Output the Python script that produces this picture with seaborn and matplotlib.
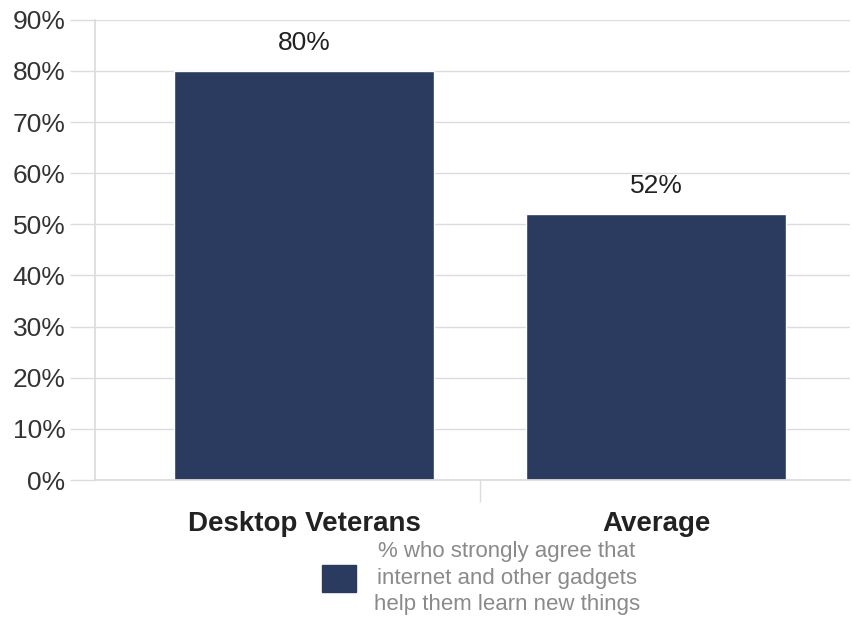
import numpy as np
import pandas as pd
import matplotlib
matplotlib.use("Agg")
import matplotlib.pyplot as plt
from matplotlib.patches import Patch
from matplotlib.ticker import MultipleLocator, FixedLocator
import seaborn as sns

categories = ["Desktop Veterans", "Average"]
values = [80, 52]
value_labels = ["80%", "52%"]
legend_label = "% who strongly agree that\ninternet and other gadgets\nhelp them learn new things"

bar_color = "#2a3b5f"
grid_color = "#dcdcdc"

sns.set_theme(style="white")
plt.rcParams["font.family"] = ["Liberation Sans", "DejaVu Sans"]

df = pd.DataFrame({"group": categories, "pct": values})

fig = plt.figure(figsize=(8.53, 6.17), dpi=100)
ax = fig.add_axes([0.111, 0.222, 0.885, 0.746])

sns.barplot(data=df, x="group", y="pct", color=bar_color, width=0.74,
            saturation=1, ax=ax)

ax.set_ylim(0, 90)
ax.set_xlim(-0.595, 1.55)
ax.yaxis.set_major_locator(MultipleLocator(10))
ax.set_yticklabels([f"{int(t)}%" for t in ax.get_yticks()])
ax.yaxis.grid(True, color=grid_color, linewidth=1)
ax.set_axisbelow(True)
# tick lengths are in points: 18pt ~ 25px
ax.tick_params(axis="y", left=True, length=18, width=1, color=grid_color,
               labelsize=19, labelcolor="#333333", pad=3)

ax.xaxis.set_minor_locator(FixedLocator([0.5]))
ax.tick_params(axis="x", which="major", bottom=False, length=0, pad=22)
ax.tick_params(axis="x", which="minor", bottom=True, length=16,
               color=grid_color, width=1)
for lab in ax.get_xticklabels():
    lab.set_fontsize(20)
    lab.set_fontweight("bold")
    lab.set_color("#222222")

for side in ["top", "right"]:
    ax.spines[side].set_visible(False)
ax.spines["left"].set_color(grid_color)
ax.spines["bottom"].set_color(grid_color)

for bar, lab in zip(ax.patches, value_labels):
    ax.text(bar.get_x() + bar.get_width() / 2, bar.get_height() + 3.2, lab,
            ha="center", va="bottom", fontsize=19, color="#222222")

ax.set_xlabel("")
ax.set_ylabel("")

handle = Patch(facecolor=bar_color, edgecolor=bar_color)
leg = fig.legend([handle], [legend_label], loc="center", bbox_to_anchor=(0.564, 0.063),
                 frameon=False, fontsize=16, handlelength=1.5, handleheight=1.5,
                 handletextpad=0.8)
for t in leg.get_texts():
    t.set_color("#8a8a8a")
    t.set_ha("center")
    t.set_multialignment("center")
    t.set_linespacing(1.35)

fig.savefig("out.png", dpi=100)
